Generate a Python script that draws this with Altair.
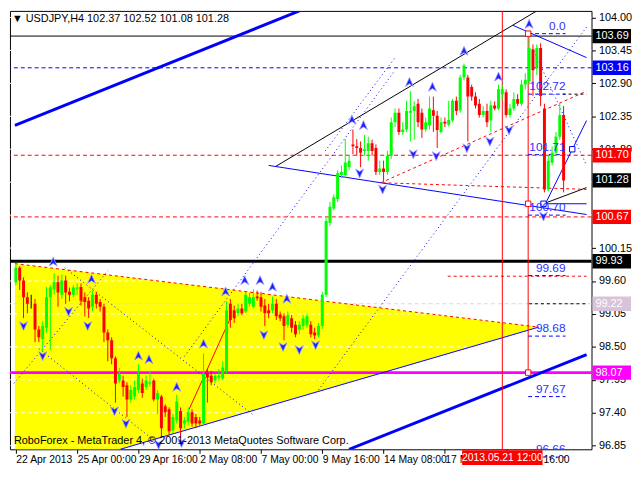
import altair as alt
import pandas as pd

# ---------------- candle data (USDJPY H4) ----------------
opens = [99.58, 99.82, 99.61, 99.33, 99.24, 99.22, 98.79, 98.63, 98.82, 99.33,
         99.46, 99.58, 99.37, 99.61, 99.42, 99.37, 99.47, 99.50, 99.33, 99.27,
         99.17, 99.37, 99.25, 99.17, 98.74, 98.61, 98.31, 97.94, 97.94, 97.86,
         97.62, 97.67, 97.78, 97.89, 97.83, 97.89, 97.94, 97.62, 97.67, 97.51,
         97.46, 97.11, 97.27, 97.43, 97.22, 97.25, 97.41, 97.33, 97.27, 97.22,
         98.07, 98.02, 97.94, 97.99, 97.97, 98.10, 99.22, 99.11, 99.06, 99.14,
         99.09, 99.22, 99.17, 99.34, 99.33, 99.19, 99.11, 99.11, 99.22, 99.04,
         99.01, 98.87, 98.98, 98.87, 98.79, 98.85, 98.87, 98.87, 98.74, 98.69,
         98.85, 99.37, 100.57, 100.81, 100.97, 101.37, 101.37, 101.50, 101.88, 101.85,
         101.82, 101.77, 101.77, 101.90, 101.82, 101.42, 101.48, 101.42, 101.69, 102.25,
         102.41, 102.09, 102.13, 102.41, 102.44, 102.56, 102.41, 102.13, 102.20, 102.45,
         102.36, 102.09, 102.26, 102.21, 102.28, 102.61, 102.45, 103.00, 103.00, 102.84,
         102.68, 102.56, 102.37, 102.44, 102.28, 102.53, 102.48, 102.72, 102.75, 102.37,
         102.48, 102.64, 102.56, 102.88, 102.93, 103.47, 103.15, 103.49, 102.48, 101.13,
         101.58, 101.74, 102.01, 102.37]
highs = [99.88, 99.85, 99.66, 99.41, 99.37, 99.30, 98.85, 98.93, 99.50, 99.53,
         99.73, 99.69, 99.71, 99.69, 99.49, 99.53, 99.56, 99.56, 99.41, 99.33,
         99.44, 99.42, 99.30, 99.22, 98.79, 98.66, 98.34, 98.15, 98.02, 97.91,
         97.86, 97.94, 98.21, 97.97, 98.02, 98.10, 97.97, 97.78, 97.70, 97.54,
         97.49, 97.38, 97.70, 97.49, 97.33, 97.49, 97.46, 97.38, 97.33, 98.39,
         98.13, 98.10, 98.05, 98.13, 98.26, 99.26, 99.30, 99.19, 99.22, 99.22,
         99.42, 99.40, 99.46, 99.44, 99.42, 99.30, 99.22, 99.34, 99.30, 99.09,
         99.06, 99.09, 99.03, 98.93, 98.93, 99.03, 99.06, 98.93, 98.82, 98.90,
         99.42, 100.65, 100.92, 101.05, 101.45, 101.53, 101.97, 101.69, 102.13, 101.97,
         101.93, 102.04, 102.01, 101.96, 101.88, 101.61, 101.61, 101.77, 102.33, 102.48,
         102.48, 102.25, 102.61, 102.77, 102.60, 102.64, 102.48, 102.33, 102.68, 102.68,
         102.44, 102.33, 102.33, 102.61, 102.64, 102.68, 103.04, 103.23, 103.04, 102.88,
         102.75, 102.64, 102.52, 102.56, 102.61, 102.60, 102.88, 102.88, 102.80, 102.56,
         102.75, 102.72, 102.96, 103.07, 103.73, 103.55, 103.55, 103.57, 102.56, 101.69,
         101.85, 102.09, 102.56, 102.52]
lows = [99.53, 99.45, 98.98, 99.06, 99.14, 98.58, 98.58, 98.42, 98.74, 98.45,
        99.37, 99.17, 99.30, 99.22, 99.26, 99.33, 99.37, 99.19, 99.01, 98.98,
        99.09, 99.14, 99.09, 98.58, 98.26, 98.21, 97.57, 97.89, 97.67, 97.33,
        97.57, 97.62, 97.73, 97.65, 97.78, 97.84, 97.59, 97.38, 96.98, 97.33,
        97.03, 97.06, 97.22, 97.01, 97.14, 97.19, 97.17, 97.14, 97.19, 97.19,
        97.57, 97.86, 97.89, 97.94, 97.94, 98.05, 98.82, 98.90, 99.01, 99.03,
        99.06, 99.17, 99.14, 99.27, 99.09, 98.85, 98.98, 99.06, 98.95, 98.93,
        98.61, 98.82, 98.74, 98.66, 98.71, 98.79, 98.82, 98.66, 98.63, 98.66,
        98.80, 99.33, 100.52, 100.78, 100.92, 101.32, 101.32, 101.45, 101.72, 101.69,
        101.50, 101.69, 101.61, 101.69, 101.37, 101.37, 101.26, 101.37, 101.64, 102.17,
        102.04, 102.04, 102.09, 101.93, 101.96, 102.17, 101.99, 102.09, 102.13, 102.09,
        101.82, 102.06, 102.17, 102.18, 102.25, 102.37, 102.41, 102.95, 101.93, 102.61,
        102.48, 102.33, 102.33, 102.17, 102.09, 102.45, 102.45, 102.64, 102.33, 102.33,
        102.44, 102.52, 102.52, 102.80, 102.88, 102.69, 103.04, 102.52, 101.08, 101.10,
        101.53, 101.69, 101.96, 101.08]
closes = [99.82, 99.61, 99.33, 99.22, 99.24, 98.79, 98.66, 98.85, 99.33, 99.49,
          99.58, 99.41, 99.61, 99.41, 99.37, 99.49, 99.49, 99.27, 99.25, 99.14,
          99.37, 99.22, 99.17, 98.74, 98.61, 98.31, 97.89, 98.05, 97.83, 97.62,
          97.78, 97.83, 98.05, 97.73, 97.94, 97.91, 97.62, 97.73, 97.14, 97.41,
          97.09, 97.33, 97.59, 97.14, 97.27, 97.41, 97.22, 97.22, 97.22, 98.05,
          97.99, 97.91, 98.02, 98.02, 98.15, 99.11, 98.95, 98.98, 99.14, 99.06,
          99.37, 99.33, 99.33, 99.31, 99.17, 99.06, 99.06, 99.22, 99.01, 98.98,
          98.85, 99.03, 98.82, 98.71, 98.87, 98.98, 99.01, 98.71, 98.69, 98.85,
          99.37, 100.60, 100.84, 101.00, 101.40, 101.42, 101.58, 101.61, 101.85, 101.82,
          101.74, 101.80, 101.90, 101.77, 101.42, 101.48, 101.42, 101.69, 102.25, 102.41,
          102.09, 102.13, 102.44, 102.44, 102.52, 102.25, 102.13, 102.25, 102.48, 102.36,
          102.12, 102.25, 102.23, 102.29, 102.61, 102.44, 103.00, 103.20, 102.68, 102.68,
          102.53, 102.37, 102.44, 102.25, 102.53, 102.48, 102.80, 102.80, 102.37, 102.48,
          102.64, 102.56, 102.88, 102.96, 103.49, 103.12, 103.49, 102.69, 101.13, 101.61,
          101.74, 102.01, 102.37, 101.28]
bars = list(range(len(opens)))

# ---------------- axes ----------------
price_ticks = [104.00, 103.45, 102.90, 102.35, 101.80, 100.15,
               99.60, 99.05, 98.50, 97.95, 97.40, 96.85]
grid_prices = [104.00, 103.45, 102.90, 102.35, 101.80, 101.25, 100.70, 100.15,
               99.60, 99.05, 98.50, 97.95, 97.40, 96.85]
time_tick_bars = [0, 16, 32, 48, 64, 80, 96, 112, 128]
time_tick_labels = ["22 Apr 2013", "25 Apr 00:00", "29 Apr 16:00", "2 May 08:00",
                    "7 May 00:00", "9 May 16:00", "14 May 08:00", "17 May 00:00",
                    "21 May 16:00"]

# ---------------- full-width horizontal levels ----------------
level_black = [103.69]
level_black_thick = [99.93]
level_blue_dash = [103.16]
level_red_dash = [101.70, 100.67]
level_magenta = [98.07]
level_pale = [99.22]

# ---------------- yellow triangle (bar, top price, bottom price) ----------------
tri_bar = [-0.25, 27.25, 136.5]
tri_top = [99.89, 99.68, 98.83]
tri_bottom = [96.79, 96.79, 98.83]

# ---------------- trend segments (bar1, price1, bar2, price2) ----------------
seg_blue_thick = [(-0.25, 102.20, 74, 104.11), (87, 96.79, 149, 98.37)]
seg_black = [(67.75, 101.51, 136, 104.11), (137.75, 100.89, 149, 101.16)]
seg_blue = [(66, 101.53, 149, 100.71), (27.25, 96.79, 136.5, 98.83),
            (129.75, 103.87, 149, 103.33), (138.25, 100.89, 149, 102.28),
            (137.75, 100.89, 149, 100.89)]
seg_red_dash = [(-0.25, 99.89, 136.5, 98.83), (95.25, 101.24, 149, 102.77),
                (95.75, 101.24, 149, 101.13), (112.75, 99.68, 149, 99.68)]
seg_red = [(45.25, 97.46, 56, 98.98), (127, 96.79, 127, 104.11),
           (133.75, 98.07, 133.75, 103.73)]
seg_blue_dot = [(79, 97.78, 149, 103.84), (44, 98.34, 99, 103.12),
                (80.75, 101.77, 99, 103.33), (-0.5, 97.89, 24, 99.77),
                (12.75, 99.82, 62.25, 97.35), (6, 98.47, 35.25, 96.98),
                (135.25, 103.44, 149, 101.53)]
seg_black_dash = [(142.75, 102.72, 149, 102.72), (134, 99.22, 149, 99.22)]

# fibonacci expansion levels
fib_prices = [103.73, 102.72, 101.71, 100.70, 99.69, 98.68, 97.67, 96.66]
fib_texts = ["0.0", "102.72", "101.71", "100.70", "99.69", "98.68", "97.67", "96.66"]

# fractal arrows
up_bar = [9.75, 19.75, 32, 34.75, 42, 49, 54.75, 59.75, 63.75, 67, 70.75,
          87.75, 90.75, 102.75, 108.75, 117, 126, 134]
up_price = [99.92, 99.63, 98.35, 98.29, 97.83, 98.55, 99.42, 99.61, 99.61, 99.50, 99.30,
            102.29, 102.20, 102.92, 102.84, 103.44, 103.01, 103.89]
dn_bar = [2, 7, 13.75, 18.75, 25.75, 28.75, 37.25, 43.25, 64.75, 69.75, 74, 78.25,
          89.75, 95.75, 103.75, 109.75, 117.75, 123.75, 128.75, 137.75]
dn_price = [98.85, 98.35, 99.09, 98.85, 97.43, 97.22, 96.87, 96.90, 98.70, 98.50, 98.45, 98.53,
            101.40, 101.13, 101.72, 101.69, 101.82, 101.93, 102.12, 100.68]

# small squares
sq_red_bar = [133.75, 133.75, 133.75]
sq_red_price = [103.73, 98.07, 100.89]
sq_blue_bar = [137.75, 145.25]
sq_blue_price = [100.89, 101.80]

# price-axis highlight boxes
box_prices = [103.69, 103.16, 101.70, 101.28, 100.67, 99.93, 99.22, 98.07]
box_colors = ["#000000", "#0000FF", "#FF0000", "#000000", "#FF0000", "#000000",
              "#D9C3D9", "#FF00FF"]

# time-axis highlight
date_box_bar = [116.5, 137.5]
date_box_center = 127
date_box_text = "2013.05.21 12:00"

title_text = "\u25BC USDJPY,H4  102.37 102.52 101.08 101.28"
copyright_text = "RoboForex - MetaTrader 4, \u00A9 2001-2013 MetaQuotes Software Corp."

FONT = "Liberation Sans"

# ---------------- build ----------------
xs = alt.Scale(domain=[-0.25, 149], nice=False, zero=False)
ys = alt.Scale(domain=[96.79, 104.11], nice=False, zero=False)

label_expr = " : ".join(f"datum.value == {b} ? '{t}'"
                        for b, t in zip(time_tick_bars, time_tick_labels)) + " : ''"

x_axis = alt.Axis(values=time_tick_bars, labelExpr=label_expr, orient="bottom",
                  labelAlign="left", labelPadding=1, tickSize=4, grid=False,
                  domain=False, labelOverlap=False, labelFlush=False,
                  labelFontSize=10.5, labelFont=FONT, labelColor="black",
                  tickColor="black", title=None)
y_axis = alt.Axis(values=price_ticks, orient="right", format=".2f", tickSize=4,
                  grid=False, domain=False, labelOverlap=False, labelFlush=False,
                  labelPadding=3, labelFontSize=11, labelFont=FONT,
                  labelColor="black", tickColor="black", labelBaseline="middle",
                  title=None)


def X(f):
    return alt.X(f, type="quantitative", scale=xs, axis=x_axis, title=None)


def Y(f):
    return alt.Y(f, type="quantitative", scale=ys, axis=y_axis, title=None)


def segs(rows, color, width=1.0, dash=None):
    df = pd.DataFrame(rows, columns=["b", "p", "b2", "p2"])
    kw = dict(color=color, strokeWidth=width, clip=True)
    if dash:
        kw["strokeDash"] = dash
    return alt.Chart(df).mark_rule(**kw).encode(
        x=X("b"), y=Y("p"), x2="b2", y2="p2")


def hlevels(vals, color, width=1.0, dash=None):
    df = pd.DataFrame({"p": vals})
    kw = dict(color=color, strokeWidth=width)
    if dash:
        kw["strokeDash"] = dash
    return alt.Chart(df).mark_rule(**kw).encode(y=Y("p"))


candles = pd.DataFrame({"b": bars, "o": opens, "h": highs, "l": lows, "c": closes})
candles["dir"] = ["up" if c > o else ("down" if c < o else "flat")
                  for o, c in zip(opens, closes)]
col_scale = alt.Scale(domain=["up", "down", "flat"], range=["#00FF00", "#FF0000", "#000000"])

tri_df = pd.DataFrame({"b": tri_bar, "top": tri_top, "bot": tri_bottom})
yellow = alt.Chart(tri_df).mark_area(color="#FFFF00", opacity=1).encode(
    x=X("b"), y=Y("top"), y2="bot")

grid = hlevels(grid_prices, "#FFFFFF", 1, [4, 3])

wicks = alt.Chart(candles).mark_rule(strokeWidth=1).encode(
    x=X("b"), y=Y("h"), y2="l",
    color=alt.Color("dir:N", scale=col_scale, legend=None))
bodies = alt.Chart(candles).mark_bar(size=3, clip=True).encode(
    x=X("b"), y=Y("o"), y2="c",
    color=alt.Color("dir:N", scale=col_scale, legend=None))

up_shape = "M0,-1L0.85,0.9L0,0.35L-0.85,0.9Z"
dn_shape = "M0,1L0.85,-0.9L0,-0.35L-0.85,-0.9Z"
ups = alt.Chart(pd.DataFrame({"b": up_bar, "p": up_price})).mark_point(
    shape=up_shape, size=90, filled=True, fill="#1E1EFF", stroke="#A0A0FF",
    strokeWidth=0.8, opacity=1).encode(x=X("b"), y=Y("p"))
dns = alt.Chart(pd.DataFrame({"b": dn_bar, "p": dn_price})).mark_point(
    shape=dn_shape, size=90, filled=True, fill="#1E1EFF", stroke="#A0A0FF",
    strokeWidth=0.8, opacity=1).encode(x=X("b"), y=Y("p"))

sq_red = alt.Chart(pd.DataFrame({"b": sq_red_bar, "p": sq_red_price})).mark_square(
    size=30, filled=True, fill="white", stroke="#FF0000", strokeWidth=1, opacity=1).encode(
    x=X("b"), y=Y("p"))
sq_blue = alt.Chart(pd.DataFrame({"b": sq_blue_bar, "p": sq_blue_price})).mark_square(
    size=30, filled=True, fill="white", stroke="#0000FF", strokeWidth=1, opacity=1).encode(
    x=X("b"), y=Y("p"))

fib_df = pd.DataFrame({"p": fib_prices, "t": fib_texts})
fib_lines = alt.Chart(fib_df).transform_calculate(b1="133.75", b2="143.5").mark_rule(
    color="#0000FF", strokeWidth=1, strokeDash=[4, 3]).encode(
    x=X("b1:Q"), x2="b2:Q", y=Y("p"))
fib_text = alt.Chart(fib_df).transform_calculate(b="143.5").mark_text(
    align="right", baseline="bottom", dy=-1, color="#3030FF", fontSize=12, font=FONT,
    clip=True).encode(x=X("b:Q"), y=Y("p"), text="t:N")

box_df = pd.DataFrame({"p": box_prices, "col": box_colors})
boxes = alt.Chart(box_df).transform_calculate(
    hi="datum.p + 0.12", lo="datum.p - 0.12").mark_rect().encode(
    x=alt.value({"expr": "width + 1"}), x2=alt.value({"expr": "width + 40"}),
    y=Y("hi:Q"), y2="lo:Q", color=alt.Color("col:N", scale=None))
box_text = alt.Chart(box_df).mark_text(
    align="left", baseline="middle", color="white", fontSize=11, font=FONT).encode(
    x=alt.value({"expr": "width + 4"}), y=Y("p"),
    text=alt.Text("p:Q", format=".2f"))

date_df = pd.DataFrame({"b": [date_box_bar[0]], "b2": [date_box_bar[1]],
                        "c": [date_box_center], "t": [date_box_text]})
date_box = alt.Chart(date_df).mark_rect(color="#FF0000").encode(
    x=X("b"), x2="b2", y=alt.value({"expr": "height + 1"}),
    y2=alt.value({"expr": "height + 16"}))
date_text = alt.Chart(date_df).mark_text(
    align="center", baseline="middle", color="white", fontSize=10.5, font=FONT).encode(
    x=X("c"), y=alt.value({"expr": "height + 9"}), text="t:N")

title = alt.Chart(pd.DataFrame({"t": [title_text]})).mark_text(
    align="left", baseline="middle", fontSize=11, font=FONT, color="black").encode(
    x=alt.value(2), y=alt.value(8), text="t:N")
copy_ = alt.Chart(pd.DataFrame({"t": [copyright_text]})).mark_text(
    align="left", baseline="middle", fontSize=11, font=FONT, color="black").encode(
    x=alt.value(4), y=alt.value({"expr": "height - 8"}), text="t:N")

chart = alt.layer(
    yellow,
    grid,
    hlevels(level_pale, "#E2D2E2", 1, [4, 3]),
    hlevels(level_black, "#000000", 1),
    hlevels(level_blue_dash, "#0000FF", 1, [4, 3]),
    hlevels(level_red_dash, "#FF0000", 1, [4, 3]),
    hlevels(level_black_thick, "#000000", 3),
    hlevels(level_magenta, "#FF00FF", 3),
    segs(seg_blue_thick, "#0000FF", 3),
    segs(seg_black, "#000000", 1),
    segs(seg_blue, "#0000FF", 1),
    segs(seg_red_dash, "#FF0000", 1, [3, 3]),
    segs(seg_red, "#FF0000", 1),
    segs(seg_blue_dot, "#0000FF", 1, [1, 3]),
    segs(seg_black_dash, "#000000", 1, [3, 3]),
    fib_lines,
    wicks,
    bodies,
    ups,
    dns,
    sq_red,
    sq_blue,
    fib_text,
    boxes,
    box_text,
    date_box,
    date_text,
    title,
    copy_,
).properties(
    width=632, height=460,
    autosize=alt.AutoSizeParams(type="fit", contains="padding"),
    padding=0,
    background="white",
).configure_view(stroke="black", strokeWidth=1)

chart.save("out.html", embed_options={"renderer": "svg", "actions": False})
